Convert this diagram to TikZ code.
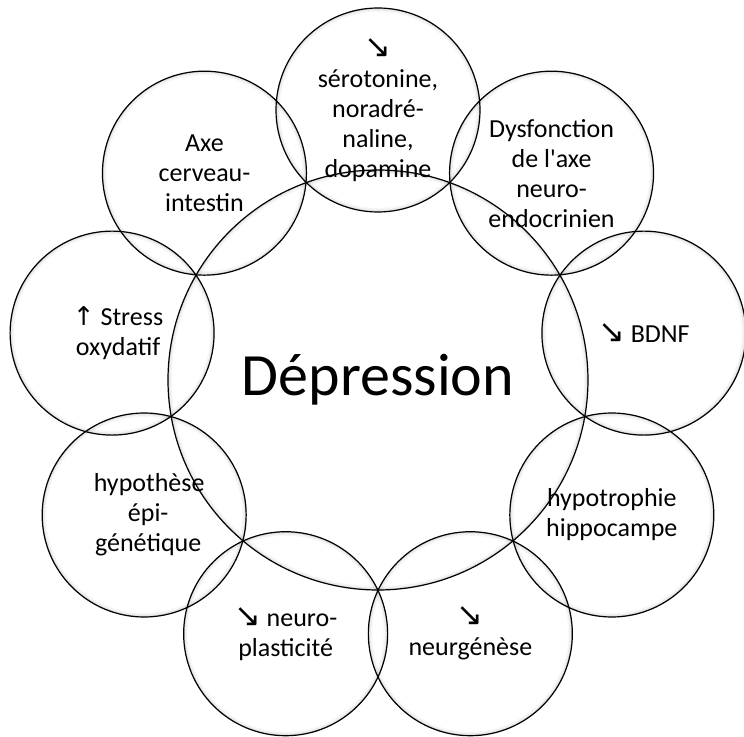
\documentclass[tikz,border=0pt]{standalone}
\usepackage{fontspec}
\setmainfont{Carlito}
\newfontfamily\arrowfont{DejaVu Sans}
\newcommand{\arrdown}{{\arrowfont\fontsize{32}{30}\selectfont ↘}}
\newcommand{\arrup}{{\arrowfont ↑}}
\tikzset{glow/.style={path picture={
    \foreach \w/\o in {8/0.03, 5/0.04, 2.5/0.06, 1.2/0.10}
        \draw[black, opacity=\o, line width=\w pt] (path picture bounding box.center) circle (#1);
}}}
\tikzstyle{bubble} = [circle, draw, line width=1.2pt, minimum size=204pt, inner sep=0pt, align=center, font=\fontsize{26}{30}\selectfont, glow=102pt]
\tikzstyle{hub} = [circle, draw, line width=1.2pt, minimum size=420pt, inner sep=0pt, align=center, font=\fontsize{60}{72}\selectfont, glow=210pt]

\begin{document}
\begin{tikzpicture}
    \useasboundingbox (-378pt,-356pt) rectangle (366pt,380pt);

    \node[bubble](t1) at (90:270pt){\arrdown\\sérotonine,\\noradré-\\naline,\\dopamine};
    \node[bubble](t2) at (50:270pt){Dysfonction\\de l\textquotesingle axe\\neuro-\\endocrinien};
    \node[bubble](t3) at (10:270pt){\arrdown{} BDNF};
    \node[bubble](t4) at (-30:270pt){hypotrophie\\hippocampe};
    \node[bubble](t5) at (-70:270pt){\arrdown\\neurgénèse};
    \node[bubble](t6) at (-110:270pt){\arrdown{} neuro-\\plasticité};
    \node[bubble](t7) at (-150:270pt){\hspace{10pt}hypothèse\\\hspace{8pt}épi-\\\hspace{8pt}génétique};
    \node[bubble](t8) at (170:270pt){\hspace{12pt}\arrup{} Stress\\\hspace{12pt}oxydatif};
    \node[bubble](t9) at (130:270pt){Axe\\cerveau-\\intestin};

    \node[hub](dep) at (0,0){Dépression};
\end{tikzpicture}
\end{document}
